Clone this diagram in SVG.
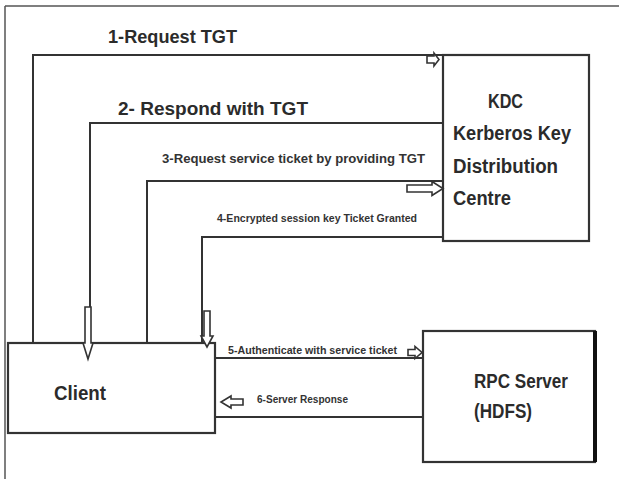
<svg xmlns="http://www.w3.org/2000/svg" width="619" height="479" viewBox="0 0 619 479">
<defs>
<style>
.frame{stroke:#555;stroke-width:1.5;fill:none}
.box{fill:#fff;stroke:#333;stroke-width:2.2}
.conn{fill:none;stroke:#333;stroke-width:2}
.ha{fill:#fff;stroke:#333;stroke-width:1.6;stroke-linejoin:miter}
.big{font-family:"Liberation Sans",Arial,sans-serif;font-weight:bold;fill:#2b2b2b}
.small{font-family:"Liberation Sans",Arial,sans-serif;font-weight:bold;fill:#333}
</style>
</defs>
<rect width="619" height="479" fill="#fff"/>
<g id="frame">
<line class="frame" x1="5" y1="6" x2="619" y2="6"/>
<line class="frame" x1="5" y1="6" x2="5" y2="479"/>
</g>
<g id="kdc">
<rect class="box" x="443" y="55" width="146" height="186"/>
<text class="big" x="488" y="108" font-size="20" textLength="35" lengthAdjust="spacingAndGlyphs">KDC</text>
<text class="big" x="453" y="140" font-size="20" textLength="118" lengthAdjust="spacingAndGlyphs">Kerberos Key</text>
<text class="big" x="453" y="173" font-size="20" textLength="105" lengthAdjust="spacingAndGlyphs">Distribution</text>
<text class="big" x="453" y="205" font-size="20" textLength="58" lengthAdjust="spacingAndGlyphs">Centre</text>
</g>
<g id="client">
<rect class="box" x="8" y="343" width="207" height="90"/>
<text class="big" x="54" y="400" font-size="20" textLength="52" lengthAdjust="spacingAndGlyphs">Client</text>
</g>
<g id="rpc">
<rect class="box" x="423" y="331" width="172" height="131"/>
<line x1="595" y1="331" x2="595" y2="462" stroke="#111" stroke-width="4"/>
<text class="big" x="474" y="388" font-size="20" textLength="94" lengthAdjust="spacingAndGlyphs">RPC Server</text>
<text class="big" x="474" y="418" font-size="20" textLength="58" lengthAdjust="spacingAndGlyphs">(HDFS)</text>
</g>
<g id="connectors">
<polyline class="conn" points="33,343 33,55 452,55"/>
<polyline class="conn" points="443,123 90,123 90,307"/>
<polyline class="conn" points="147,343 147,181 443,181"/>
<polyline class="conn" points="443,237 202,237 202,343"/>
<line class="conn" x1="215" y1="358" x2="423" y2="358"/>
<line class="conn" x1="215" y1="417" x2="423" y2="417"/>
<line class="conn" x1="180" y1="343" x2="215" y2="343"/>
<path class="ha" d="M427,56 L434,56 L434,53 L439,59.5 L434,66 L434,63 L427,63 Z"/>
<path class="ha" d="M85,307 L91,307 L91,343 L93,343 L88,359 L83,343 L85,343 Z"/>
<path class="ha" d="M407,185 L432,185 L432,181.5 L443,188.5 L432,195.5 L432,192 L407,192 Z"/>
<path class="ha" d="M204,311 L210,311 L210,336 L213,336 L207,347 L201,336 L204,336 Z"/>
<path class="ha" d="M408,349.5 L415,349.5 L415,346.5 L422,352.5 L415,358.5 L415,355.5 L408,355.5 Z"/>
<path class="ha" d="M243,399 L231,399 L231,396 L221,402 L231,408 L231,405 L243,405 Z"/>
<text class="big" x="108" y="43" font-size="18" textLength="129" lengthAdjust="spacingAndGlyphs">1-Request TGT</text>
<text class="big" x="118" y="115" font-size="18" textLength="190" lengthAdjust="spacingAndGlyphs">2- Respond with TGT</text>
<text class="small" x="162" y="163" font-size="13" textLength="263" lengthAdjust="spacingAndGlyphs">3-Request service ticket by providing TGT</text>
<text class="small" x="217" y="222" font-size="11" textLength="200" lengthAdjust="spacingAndGlyphs">4-Encrypted session key Ticket Granted</text>
<text class="small" x="228" y="354" font-size="11" textLength="169" lengthAdjust="spacingAndGlyphs">5-Authenticate with service ticket</text>
<text class="small" x="257" y="403" font-size="11" textLength="91" lengthAdjust="spacingAndGlyphs">6-Server Response</text>
</g>
</svg>
